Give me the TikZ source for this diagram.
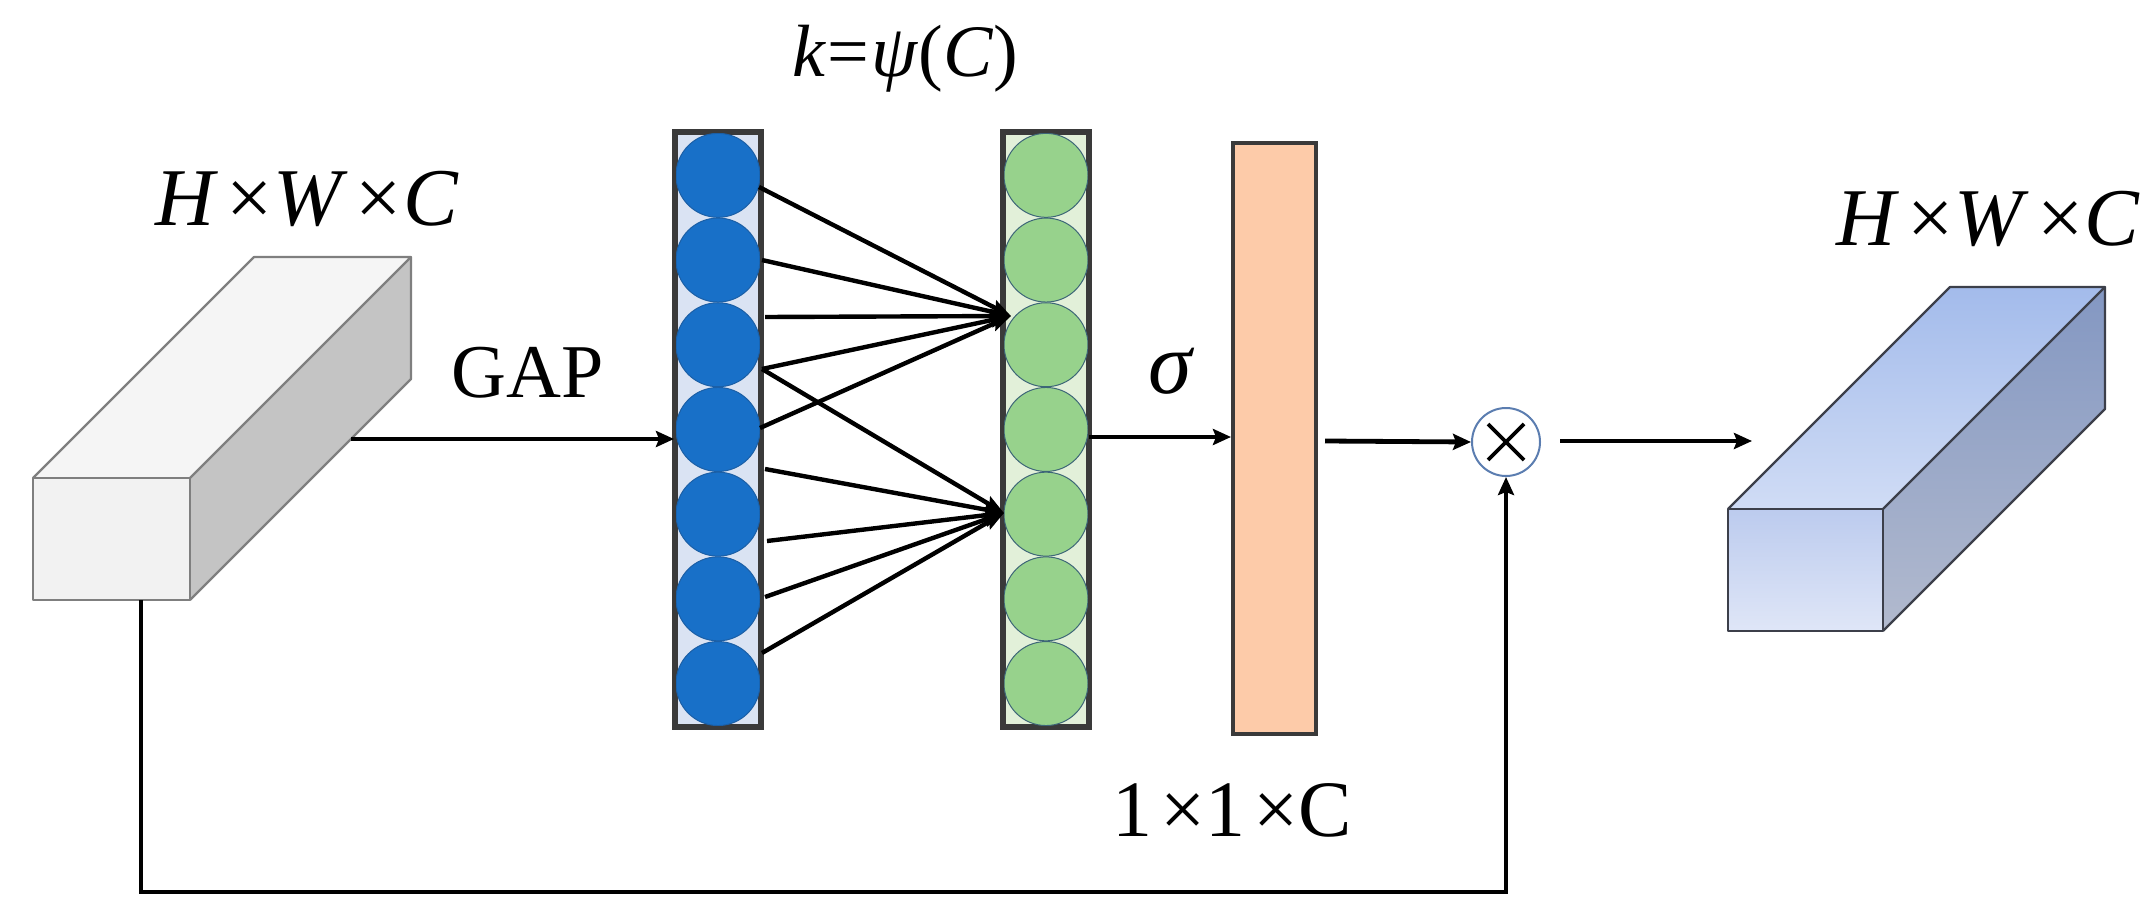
\documentclass[tikz,border=0pt]{standalone}
\usepackage{fontspec}
\setmainfont{Liberation Serif}
\usetikzlibrary{arrows.meta,calc}
\definecolor{bluebg}{HTML}{DAE3F3}
\definecolor{bluec}{HTML}{1870C8}
\definecolor{bluecd}{HTML}{1B5FA6}
\definecolor{greenbg}{HTML}{E2F0D9}
\definecolor{greenc}{HTML}{97D28C}
\definecolor{greencd}{HTML}{3D6677}
\definecolor{peach}{HTML}{FDCBA9}
\definecolor{colborder}{HTML}{3A3A3A}
\definecolor{boxedge}{HTML}{7F7F7F}
\definecolor{mulring}{HTML}{5B7DB0}
\definecolor{rtopA}{HTML}{A3BBEB}
\definecolor{rtopB}{HTML}{D0DCF5}
\definecolor{rsideA}{HTML}{8397C2}
\definecolor{rsideB}{HTML}{B2BACE}
\definecolor{rfrontA}{HTML}{BCCBEE}
\definecolor{rfrontB}{HTML}{DFE6F7}
\definecolor{redge}{HTML}{3C3F4A}
\tikzset{
  colbox/.style={draw=colborder, line width=2pt, inner sep=0pt, minimum width=42pt, minimum height=296.5pt},
  bcirc/.style={circle, fill=bluec, draw=bluecd, line width=0.5pt, inner sep=0pt, minimum size=42pt},
  gcirc/.style={circle, fill=greenc, draw=greencd, line width=0.5pt, inner sep=0pt, minimum size=42pt},
  flow/.style={line width=2.4pt, -{Stealth[length=9pt,width=8pt,inset=1.5pt]}},
  fc/.style={line width=2.2pt, -{Stealth[length=10pt,width=7pt,inset=1.5pt]}},
  lbl/.style={inner sep=0pt, anchor=base},
  faceedge/.style={draw=boxedge, line width=1.1pt, line join=round},
  rfaceedge/.style={draw=redge, line width=1.1pt, line join=round}
}
\newcommand{\hwclabel}{\textit{H}\kern4pt×\kern0.5pt\textit{W}\kern4pt×\kern0.5pt\textit{C}}
\begin{document}
\begin{tikzpicture}[x=0.5pt,y=-0.5pt]
\useasboundingbox (0,0) rectangle (2153,920);

% ---------- left input tensor ----------
\coordinate (LF1) at (33,478);
\coordinate (LF2) at (190,478);
\coordinate (LF3) at (190,600);
\coordinate (LF4) at (33,600);
\coordinate (LB1) at (254,257);
\coordinate (LB2) at (411,257);
\coordinate (LB3) at (411,379);
\fill[fill=black!4] (LF1) -- (LB1) -- (LB2) -- (LF2) -- cycle;
\fill[fill=black!23] (LF2) -- (LB2) -- (LB3) -- (LF3) -- cycle;
\filldraw[faceedge, fill=black!5] (LF1) rectangle (LF3);
\draw[faceedge] (LF1) -- (LB1) -- (LB2) -- (LF2);
\draw[faceedge] (LB2) -- (LB3) -- (LF3);
\node[lbl, font=\fontsize{41}{50}\selectfont] (inlabel) at (307,225) {\hwclabel};

% ---------- right output tensor ----------
\coordinate (RF1) at (1728,509);
\coordinate (RF2) at (1883,509);
\coordinate (RF3) at (1883,631);
\coordinate (RF4) at (1728,631);
\coordinate (RB1) at (1950,287);
\coordinate (RB2) at (2105,287);
\coordinate (RB3) at (2105,409);
\shade[top color=rtopA, bottom color=rtopB] (RF1) -- (RB1) -- (RB2) -- (RF2) -- cycle;
\shade[top color=rsideA, bottom color=rsideB] (RF2) -- (RB2) -- (RB3) -- (RF3) -- cycle;
\shade[top color=rfrontA, bottom color=rfrontB] (RF1) rectangle (RF3);
\draw[rfaceedge] (RF1) rectangle (RF3);
\draw[rfaceedge] (RF1) -- (RB1) -- (RB2) -- (RF2);
\draw[rfaceedge] (RB2) -- (RB3) -- (RF3);
\node[lbl, font=\fontsize{41}{50}\selectfont] (outlabel) at (1988,245) {\hwclabel};

% ---------- blue column ----------
\node[colbox, fill=bluebg] (bcol) at (718,429.5) {};
\foreach \i in {1,...,7} {
  \node[bcirc] (b\i) at (718,{133+84.7*(\i-0.5)}) {};
}
\draw[draw=colborder, line width=2pt] (bcol.south west) rectangle (bcol.north east);

% ---------- green column ----------
\node[colbox, fill=greenbg] (gcol) at (1046,429.5) {};
\foreach \i in {1,...,7} {
  \node[gcirc] (g\i) at (1046,{133+84.7*(\i-0.5)}) {};
}
\draw[draw=colborder, line width=2pt] (gcol.south west) rectangle (gcol.north east);

% ---------- sigmoid output ----------
\node[draw=colborder, line width=2pt, fill=peach, inner sep=0pt, minimum width=41.5pt, minimum height=295.5pt] (att) at (1274.5,438.5) {};

% ---------- 1D conv connections ----------
\coordinate (t1) at (1011,316);
\coordinate (t2) at (1004,513);
\coordinate (s1) at (759,187);
\coordinate (s2) at (762,260);
\coordinate (s3) at (765,317);
\coordinate (s4) at (762,369);
\coordinate (s5) at (760,428);
\coordinate (s6) at (765,469);
\coordinate (s7) at (767,541);
\coordinate (s8) at (765,597);
\coordinate (s9) at (762,653);
\foreach \s in {s1,s2,s3,s4,s5} { \draw[fc] (\s) -- (t1); }
\foreach \s in {s4,s6,s7,s8,s9} { \draw[fc] (\s) -- (t2); }

% ---------- multiplication ----------
\node[circle, draw=mulring, line width=1pt, fill=white, inner sep=0pt, minimum size=34pt] (mul) at (1506,442) {};
\draw[line width=1.9pt] ($(mul.center)+(-18,-18)$) -- ($(mul.center)+(18,18)$);
\draw[line width=1.9pt] ($(mul.center)+(-18,18)$) -- ($(mul.center)+(18,-18)$);

% ---------- flow arrows ----------
\coordinate (gapstart) at (351,439);
\draw[flow] (gapstart) -- (bcol.west |- gapstart);
\node[lbl, font=\fontsize{38}{46}\selectfont] (gaplabel) at (528,397) {GAP};
\coordinate (gout) at (1089,437);
\draw[flow] (gout) -- (att.west |- gout);
\node[lbl, font=\fontsize{44}{50}\selectfont] (sigma) at (1172,393) {\textit{σ}};
\coordinate (attout) at (1325,441);
\draw[flow] (attout) -- (mul.west);
\coordinate (mulout) at (1560,441);
\coordinate (outin) at (1752,441);
\draw[flow] (mulout) -- (outin);
\node[lbl, font=\fontsize{37}{44}\selectfont] (klabel) at (905,77) {\textit{k}\kern1pt=\kern1pt\textit{ψ}(\textit{C})};
\node[lbl, font=\fontsize{40}{48}\selectfont] (shape) at (1232,836) {1\kern4pt×1\kern4pt×C};

% ---------- skip connection ----------
\coordinate (skip0) at (141,600);
\coordinate (skip1) at (141,892);
\coordinate (skip2) at (1506,892);
\draw[flow] (skip0) -- (skip1) -- (skip2) -- (mul.south);
\end{tikzpicture}
\end{document}
